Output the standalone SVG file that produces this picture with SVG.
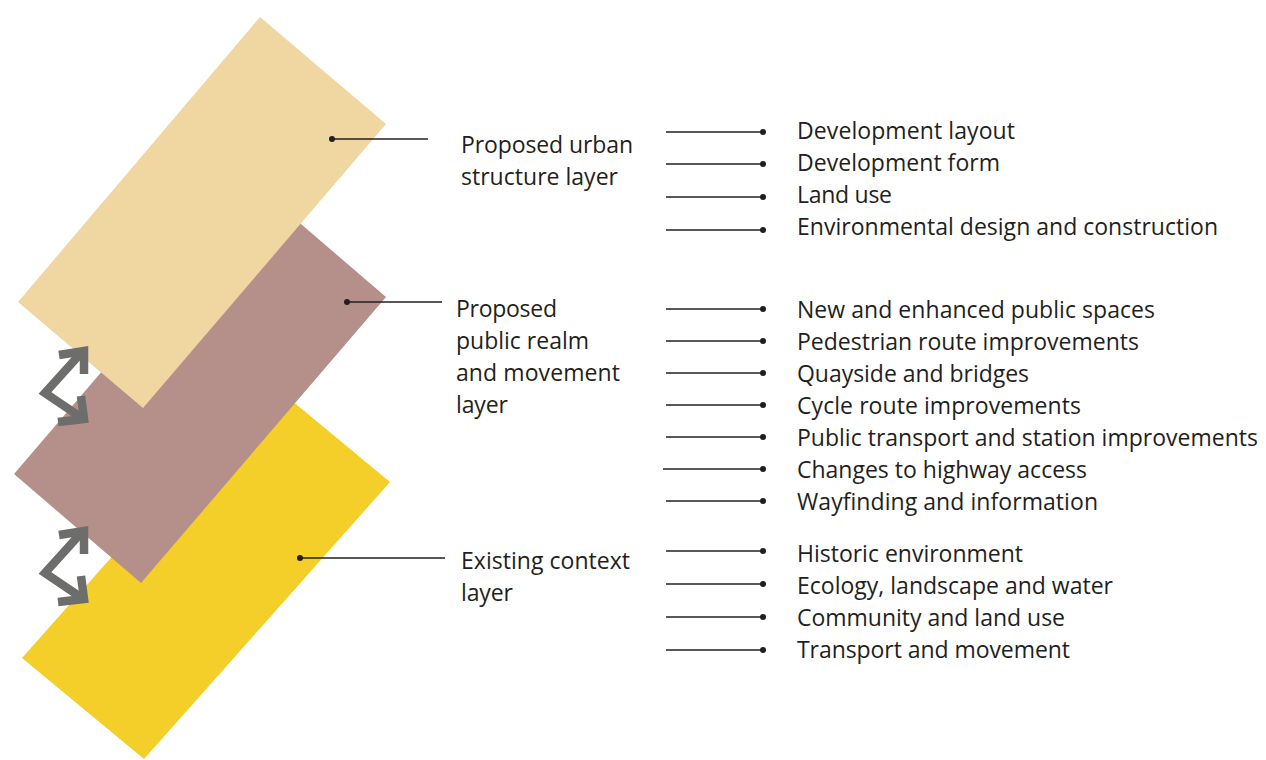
<svg xmlns="http://www.w3.org/2000/svg" width="1266" height="760" viewBox="0 0 1266 760">
<style>
.t{font-family:"Open Sans","Liberation Sans",sans-serif;font-size:23px;fill:#231f20}
.c{stroke:#231f20;stroke-width:1.5;fill:none}
.d{fill:#231f20}
.a{stroke:#6d6d6b;stroke-width:8.5;fill:none;stroke-linejoin:miter;stroke-miterlimit:10}
</style>
<rect width="1266" height="760" fill="#ffffff"/>
<g id="layer-existing"><polygon points="268,381 390,482 144,759 22,658" fill="#f4ce29"/></g>
<g id="layer-public"><polygon points="259,188 386,297 141,583 14,474" fill="#b5908a"/></g>
<g id="layer-urban"><polygon points="260,17 386,124 143,408 18,302" fill="#f0d6a1"/></g>
<g id="arrows">
<path class="a" d="M82 352 L45 393 L82 418"/>
<path class="a" d="M59 355 L84 351 L84 374"/>
<path class="a" d="M81 396 L84 419 L58 422"/>
<path class="a" d="M82 532 L45 573 L82 598"/>
<path class="a" d="M59 535 L84 531 L84 554"/>
<path class="a" d="M81 576 L84 599 L58 602"/>
</g>
<g id="connectors">
<line class="c" x1="332" y1="139" x2="428" y2="139"/><circle class="d" cx="332" cy="139" r="3"/>
<line class="c" x1="347" y1="302" x2="442" y2="302"/><circle class="d" cx="347" cy="302" r="3"/>
<line class="c" x1="300" y1="558" x2="445" y2="558"/><circle class="d" cx="300" cy="558" r="3"/>
<g id="item-lines">
<line class="c" x1="666" y1="132" x2="763" y2="132"/><circle class="d" cx="763" cy="132" r="3"/>
<line class="c" x1="666" y1="164" x2="763" y2="164"/><circle class="d" cx="763" cy="164" r="3"/>
<line class="c" x1="666" y1="197" x2="763" y2="197"/><circle class="d" cx="763" cy="197" r="3"/>
<line class="c" x1="666" y1="230" x2="763" y2="230"/><circle class="d" cx="763" cy="230" r="3"/>
<line class="c" x1="666" y1="309" x2="763" y2="309"/><circle class="d" cx="763" cy="309" r="3"/>
<line class="c" x1="666" y1="341" x2="763" y2="341"/><circle class="d" cx="763" cy="341" r="3"/>
<line class="c" x1="666" y1="373" x2="763" y2="373"/><circle class="d" cx="763" cy="373" r="3"/>
<line class="c" x1="666" y1="405" x2="763" y2="405"/><circle class="d" cx="763" cy="405" r="3"/>
<line class="c" x1="666" y1="437" x2="763" y2="437"/><circle class="d" cx="763" cy="437" r="3"/>
<line class="c" x1="663" y1="469" x2="763" y2="469"/><circle class="d" cx="763" cy="469" r="3"/>
<line class="c" x1="666" y1="501" x2="763" y2="501"/><circle class="d" cx="763" cy="501" r="3"/>
<line class="c" x1="666" y1="551" x2="763" y2="551"/><circle class="d" cx="763" cy="551" r="3"/>
<line class="c" x1="666" y1="584" x2="763" y2="584"/><circle class="d" cx="763" cy="584" r="3"/>
<line class="c" x1="666" y1="617" x2="763" y2="617"/><circle class="d" cx="763" cy="617" r="3"/>
<line class="c" x1="666" y1="650" x2="763" y2="650"/><circle class="d" cx="763" cy="650" r="3"/>
</g>
</g>
<g id="label-urban">
<text class="t" x="461" y="153" textLength="172">Proposed urban</text>
<text class="t" x="461" y="185" textLength="157">structure layer</text>
</g>
<g id="label-public">
<text class="t" x="456" y="317" textLength="101">Proposed</text>
<text class="t" x="456" y="349" textLength="133">public realm</text>
<text class="t" x="456" y="381" textLength="164">and movement</text>
<text class="t" x="456" y="413" textLength="52">layer</text>
</g>
<g id="label-existing">
<text class="t" x="461" y="569" textLength="169">Existing context</text>
<text class="t" x="461" y="601" textLength="52">layer</text>
</g>
<g id="items-urban">
<text class="t" x="797" y="139" textLength="218">Development layout</text>
<text class="t" x="797" y="171" textLength="203">Development form</text>
<text class="t" x="797" y="203" textLength="95">Land use</text>
<text class="t" x="797" y="235" textLength="421">Environmental design and construction</text>
</g>
<g id="items-public">
<text class="t" x="797" y="318" textLength="358">New and enhanced public spaces</text>
<text class="t" x="797" y="350" textLength="342">Pedestrian route improvements</text>
<text class="t" x="797" y="382" textLength="232">Quayside and bridges</text>
<text class="t" x="797" y="414" textLength="284">Cycle route improvements</text>
<text class="t" x="797" y="446" textLength="461">Public transport and station improvements</text>
<text class="t" x="797" y="478" textLength="290">Changes to highway access</text>
<text class="t" x="797" y="510" textLength="301">Wayfinding and information</text>
</g>
<g id="items-existing">
<text class="t" x="797" y="562" textLength="226">Historic environment</text>
<text class="t" x="797" y="594" textLength="316">Ecology, landscape and water</text>
<text class="t" x="797" y="626" textLength="268">Community and land use</text>
<text class="t" x="797" y="658" textLength="273">Transport and movement</text>
</g>
</svg>
